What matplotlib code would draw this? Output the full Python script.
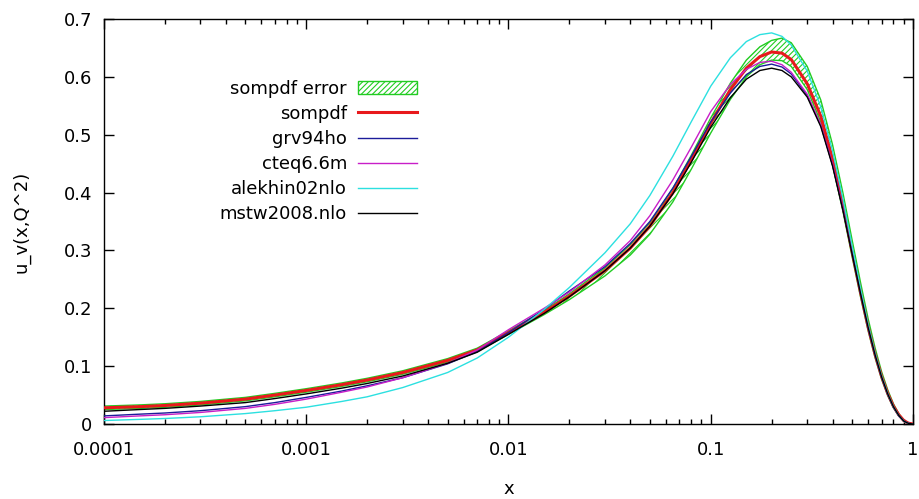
import matplotlib
matplotlib.use("Agg")
import matplotlib.pyplot as plt
from matplotlib.patches import Rectangle
from matplotlib.ticker import FixedLocator, FixedFormatter, LogLocator, NullLocator

# Momentum fraction grid
x = [1e-4, 1.5e-4, 2e-4, 3e-4, 5e-4, 7e-4, 1e-3, 1.5e-3, 2e-3, 3e-3, 5e-3, 7e-3,
     0.01, 0.015, 0.02, 0.03, 0.04, 0.05, 0.065, 0.08, 0.1, 0.125, 0.15, 0.175,
     0.2, 0.225, 0.25, 0.3, 0.35, 0.4, 0.45, 0.5, 0.55, 0.6, 0.65, 0.7, 0.75,
     0.8, 0.85, 0.9, 0.95, 1.0]

sompdf = [0.028, 0.030, 0.032, 0.036, 0.043, 0.050, 0.058, 0.068, 0.076, 0.089, 0.110, 0.128,
          0.158, 0.193, 0.221, 0.265, 0.304, 0.342, 0.400, 0.456, 0.520, 0.578, 0.615, 0.635,
          0.643, 0.641, 0.630, 0.588, 0.532, 0.458, 0.378, 0.298, 0.228, 0.168, 0.120, 0.082,
          0.053, 0.031, 0.016, 0.006, 0.0013, 0.0]

sompdf_hi = [0.031, 0.033, 0.035, 0.039, 0.046, 0.053, 0.061, 0.071, 0.079, 0.092, 0.113, 0.131,
             0.161, 0.196, 0.225, 0.270, 0.310, 0.348, 0.407, 0.464, 0.529, 0.589, 0.629, 0.652,
             0.663, 0.667, 0.659, 0.618, 0.560, 0.483, 0.400, 0.318, 0.245, 0.182, 0.131, 0.090,
             0.059, 0.035, 0.018, 0.007, 0.0013, 0.0]

sompdf_lo = [0.025, 0.027, 0.029, 0.033, 0.040, 0.047, 0.055, 0.065, 0.073, 0.086, 0.107, 0.125,
             0.155, 0.189, 0.215, 0.256, 0.292, 0.328, 0.384, 0.440, 0.503, 0.561, 0.600, 0.621,
             0.629, 0.628, 0.618, 0.578, 0.522, 0.448, 0.368, 0.289, 0.220, 0.161, 0.114, 0.077,
             0.049, 0.028, 0.014, 0.005, 0.0008, 0.0]

grv94ho = [0.014, 0.017, 0.019, 0.023, 0.030, 0.037, 0.046, 0.057, 0.066, 0.080, 0.104, 0.125,
           0.158, 0.198, 0.230, 0.272, 0.312, 0.350, 0.408, 0.462, 0.522, 0.572, 0.604, 0.618,
           0.622, 0.617, 0.605, 0.568, 0.516, 0.448, 0.372, 0.295, 0.226, 0.166, 0.118, 0.080,
           0.051, 0.029, 0.014, 0.005, 0.001, 0.0]

cteq66m = [0.011, 0.014, 0.016, 0.020, 0.027, 0.034, 0.043, 0.055, 0.064, 0.080, 0.105, 0.128,
           0.163, 0.200, 0.228, 0.275, 0.317, 0.360, 0.422, 0.478, 0.540, 0.587, 0.613, 0.625,
           0.627, 0.621, 0.608, 0.570, 0.517, 0.449, 0.373, 0.296, 0.227, 0.167, 0.119, 0.081,
           0.052, 0.030, 0.015, 0.005, 0.001, 0.0]

alekhin02nlo = [0.006, 0.008, 0.0095, 0.0125, 0.018, 0.023, 0.029, 0.039, 0.047, 0.063, 0.089, 0.114,
                0.150, 0.198, 0.236, 0.296, 0.346, 0.395, 0.463, 0.522, 0.584, 0.633, 0.661, 0.673,
                0.676, 0.670, 0.655, 0.610, 0.548, 0.472, 0.390, 0.308, 0.235, 0.172, 0.122, 0.083,
                0.053, 0.030, 0.015, 0.005, 0.001, 0.0]

mstw2008nlo = [0.022, 0.025, 0.027, 0.031, 0.037, 0.044, 0.052, 0.062, 0.070, 0.083, 0.105, 0.124,
               0.155, 0.191, 0.220, 0.265, 0.304, 0.342, 0.398, 0.452, 0.513, 0.564, 0.596, 0.611,
               0.615, 0.611, 0.600, 0.565, 0.514, 0.446, 0.370, 0.294, 0.226, 0.167, 0.119, 0.081,
               0.052, 0.030, 0.015, 0.005, 0.001, 0.0]

labels = ["sompdf error", "sompdf", "grv94ho", "cteq6.6m", "alekhin02nlo", "mstw2008.nlo"]
xtick_vals = [1e-4, 1e-3, 1e-2, 1e-1, 1.0]
xtick_text = ["0.0001", "0.001", "0.01", "0.1", "1"]
ytick_vals = [0.0, 0.1, 0.2, 0.3, 0.4, 0.5, 0.6, 0.7]
ytick_text = ["0", "0.1", "0.2", "0.3", "0.4", "0.5", "0.6", "0.7"]

GREEN = "#22cc22"
RED = "#e8191c"
BLUE = "#1c1c9a"
MAGENTA = "#c81ec8"
CYAN = "#2ce0e0"
BLACK = "#000000"
FS = 13

plt.rcParams["font.family"] = ["DejaVu Sans"]
plt.rcParams["hatch.linewidth"] = 0.8

fig = plt.figure(figsize=(9.19, 4.99), dpi=100)
ax = fig.add_axes([104 / 919, 1 - 424 / 499, 809 / 919, 405 / 499])

band = ax.fill_between(x, sompdf_lo, sompdf_hi, facecolor="none", edgecolor=GREEN,
                       hatch="//////", linewidth=1.0, zorder=2)
l_som, = ax.plot(x, sompdf, color=RED, lw=2.2, zorder=3)
l_grv, = ax.plot(x, grv94ho, color=BLUE, lw=1.0, zorder=3)
l_cteq, = ax.plot(x, cteq66m, color=MAGENTA, lw=1.0, zorder=3)
l_alek, = ax.plot(x, alekhin02nlo, color=CYAN, lw=1.0, zorder=3)
l_mstw, = ax.plot(x, mstw2008nlo, color=BLACK, lw=1.0, zorder=3)

ax.set_xscale("log")
ax.set_xlim(1e-4, 1.0)
ax.set_ylim(0.0, 0.7)

ax.xaxis.set_major_locator(FixedLocator(xtick_vals))
ax.xaxis.set_major_formatter(FixedFormatter(xtick_text))
ax.xaxis.set_minor_locator(LogLocator(base=10, subs=range(2, 10), numticks=20))
ax.xaxis.set_minor_formatter(plt.NullFormatter())
ax.yaxis.set_major_locator(FixedLocator(ytick_vals))
ax.yaxis.set_major_formatter(FixedFormatter(ytick_text))
ax.yaxis.set_minor_locator(NullLocator())

ax.tick_params(which="both", direction="in", top=True, right=True,
               labelsize=FS, colors="black", width=1.0)
ax.tick_params(which="major", length=7.2)
ax.tick_params(which="minor", length=3.6)
ax.tick_params(axis="x", which="major", pad=12.5)
ax.tick_params(axis="y", which="major", pad=8.5)
for sp in ax.spines.values():
    sp.set_linewidth(1.0)
    sp.set_color("black")

ax.set_xlabel("x", fontsize=FS, labelpad=15)
ax.set_ylabel("u_v(x,Q^2)", fontsize=FS, labelpad=24)

band_handle = Rectangle((0, 0), 1, 1, facecolor="none", edgecolor=GREEN,
                        hatch="//////", linewidth=1.0)
handles = [band_handle, l_som, l_grv, l_cteq, l_alek, l_mstw]
ax.legend(handles, labels, loc="upper right", bbox_to_anchor=(313 / 809, 0.85),
          markerfirst=False, frameon=False, fontsize=FS, handlelength=3.27,
          handletextpad=0.6, labelspacing=0.39, borderpad=0.0, borderaxespad=0.0)

fig.savefig("out.png", dpi=100)
